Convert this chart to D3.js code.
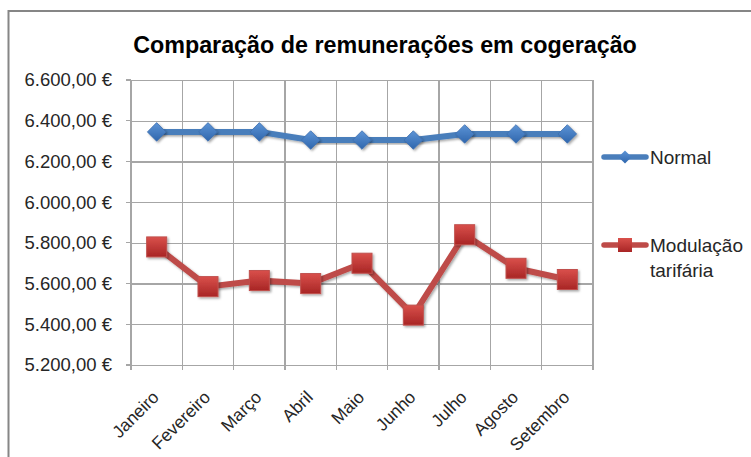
<!DOCTYPE html>
<html>
<head>
<meta charset="utf-8">
<script src="https://cdn.jsdelivr.net/npm/d3@7"></script>
<style>
  html, body { margin: 0; padding: 0; background: #fff; }
  svg { display: block; font-family: "Liberation Sans", Arial, sans-serif; }
</style>
</head>
<body>
<svg id="chart" width="751" height="457"></svg>
<script>
const title = "Comparação de remunerações em cogeração";
const months = ["Janeiro", "Fevereiro", "Março", "Abril", "Maio", "Junho", "Julho", "Agosto", "Setembro"];
const normal = [6345, 6345, 6345, 6305, 6305, 6305, 6335, 6335, 6335];
const modulacao = [5780, 5585, 5615, 5600, 5700, 5445, 5840, 5675, 5620];
const seriesNames = ["Normal", "Modulação tarifária"];
const yTicks = [5200, 5400, 5600, 5800, 6000, 6200, 6400, 6600];

const svg = d3.select("#chart");
const W = 751, H = 457;
const m = { left: 131, right: 593, top: 80, bottom: 365 };

const defs = svg.append("defs");
const sh = defs.append("filter").attr("id", "shadow").attr("x", "-50%").attr("y", "-50%").attr("width", "200%").attr("height", "200%");
sh.append("feDropShadow").attr("dx", 1.5).attr("dy", 1.5).attr("stdDeviation", 1.2).attr("flood-color", "#000").attr("flood-opacity", 0.35);
const gB = defs.append("linearGradient").attr("id", "gradB").attr("x1", 0).attr("y1", 0).attr("x2", 0).attr("y2", 1);
gB.append("stop").attr("offset", "0%").attr("stop-color", "#5d94d6");
gB.append("stop").attr("offset", "100%").attr("stop-color", "#2f66ad");
const gR = defs.append("linearGradient").attr("id", "gradR").attr("x1", 0).attr("y1", 0).attr("x2", 0).attr("y2", 1);
gR.append("stop").attr("offset", "0%").attr("stop-color", "#d9504b");
gR.append("stop").attr("offset", "100%").attr("stop-color", "#a82525");

// frame
svg.append("path").attr("d", `M8.5,${H} L8.5,11 L${W},11`).attr("fill", "none").attr("stroke", "#868686").attr("stroke-width", 2);

const x = d3.scaleBand().domain(months).range([m.left, m.right]).padding(0);
const y = d3.scaleLinear().domain([5200, 6600]).range([m.bottom, m.top]);

// horizontal grid
const gy = svg.append("g").attr("transform", `translate(${m.left},0)`)
  .call(d3.axisLeft(y).tickValues(yTicks).tickSize(-(m.right - m.left)).tickFormat(""));
gy.select(".domain").remove();
gy.selectAll("line").attr("stroke", "#a6a6a6").attr("stroke-width", 1.2).attr("shape-rendering", "crispEdges");

// vertical grid at band boundaries
const bounds = months.map(d => x(d)).concat([m.right]);
svg.append("g").selectAll("line").data(bounds).join("line")
  .attr("x1", d => d).attr("x2", d => d).attr("y1", m.top).attr("y2", m.bottom)
  .attr("stroke", "#a6a6a6").attr("stroke-width", 1.2).attr("shape-rendering", "crispEdges");

// axis tick marks
svg.append("g").selectAll("line").data(yTicks).join("line")
  .attr("x1", m.left - 5).attr("x2", m.left).attr("y1", d => y(d)).attr("y2", d => y(d))
  .attr("stroke", "#a6a6a6").attr("stroke-width", 1.2).attr("shape-rendering", "crispEdges");
svg.append("g").selectAll("line").data(bounds).join("line")
  .attr("x1", d => d).attr("x2", d => d).attr("y1", m.bottom).attr("y2", m.bottom + 5)
  .attr("stroke", "#a6a6a6").attr("stroke-width", 1.2).attr("shape-rendering", "crispEdges");

// y labels
const fmt = v => {
  const s = Math.floor(v).toString();
  const th = s.length > 3 ? s.slice(0, s.length - 3) + "." + s.slice(-3) : s;
  return th + ",00 €";
};
svg.append("g").selectAll("text").data(yTicks).join("text")
  .attr("x", 112).attr("y", d => y(d)).attr("dy", "0.35em")
  .attr("text-anchor", "end").attr("font-size", 18.5).attr("fill", "#262626")
  .text(fmt);

// x labels rotated
svg.append("g").selectAll("text").data(months).join("text")
  .attr("transform", d => `translate(${x(d) + x.bandwidth() / 2 - 1},${m.bottom + 29}) rotate(-45)`)
  .attr("text-anchor", "end").attr("dy", "0.35em").attr("font-size", 17.5).attr("fill", "#262626")
  .text(d => d);

// lines
const cx = d => x(d) + x.bandwidth() / 2;
const line = d3.line().x((d, i) => cx(months[i])).y(d => y(d));
svg.append("path").datum(normal).attr("d", line).attr("fill", "none")
  .attr("stroke", "#4a7ebb").attr("stroke-width", 6).attr("stroke-linejoin", "round").attr("stroke-linecap", "round")
  .attr("filter", "url(#shadow)");
svg.append("path").datum(modulacao).attr("d", line).attr("fill", "none")
  .attr("stroke", "#be4b48").attr("stroke-width", 6).attr("stroke-linejoin", "round").attr("stroke-linecap", "round")
  .attr("filter", "url(#shadow)");

const diamond = d3.symbol().type(d3.symbolDiamond2).size(220);
svg.append("g").selectAll("path").data(normal).join("path")
  .attr("transform", (d, i) => `translate(${cx(months[i])},${y(d)})`)
  .attr("d", diamond).attr("fill", "url(#gradB)").attr("stroke", "#3d6fae").attr("stroke-width", 0.8)
  .attr("filter", "url(#shadow)");
svg.append("g").selectAll("rect").data(modulacao).join("rect")
  .attr("x", (d, i) => cx(months[i]) - 10).attr("y", d => y(d) - 10)
  .attr("width", 20).attr("height", 20)
  .attr("fill", "url(#gradR)").attr("stroke", "#c0504d").attr("stroke-width", 1)
  .attr("filter", "url(#shadow)");

// legend
const lg = svg.append("g");
lg.append("line").attr("x1", 604).attr("x2", 646).attr("y1", 157).attr("y2", 157)
  .attr("stroke", "#4a7ebb").attr("stroke-width", 5.5).attr("stroke-linecap", "round");
lg.append("path").attr("transform", "translate(625,157)").attr("d", d3.symbol().type(d3.symbolDiamond2).size(110))
  .attr("fill", "url(#gradB)");
lg.append("text").attr("x", 650).attr("y", 157).attr("dy", "0.35em").attr("font-size", 19).attr("fill", "#262626").text(seriesNames[0]);
lg.append("line").attr("x1", 604).attr("x2", 646).attr("y1", 245).attr("y2", 245)
  .attr("stroke", "#be4b48").attr("stroke-width", 5.5).attr("stroke-linecap", "round");
lg.append("rect").attr("x", 618).attr("y", 238).attr("width", 14).attr("height", 14).attr("fill", "url(#gradR)");
const lt = lg.append("text").attr("x", 650).attr("y", 245).attr("dy", "0.35em").attr("font-size", 19).attr("fill", "#262626");
lt.append("tspan").attr("x", 650).text("Modulação");
lt.append("tspan").attr("x", 650).attr("dy", "1.32em").text("tarifária");

// title
svg.append("text").attr("x", 385).attr("y", 53).attr("text-anchor", "middle")
  .attr("font-size", 23.3).attr("font-weight", "bold").attr("fill", "#000")
  .text(title);
</script>
</body>
</html>
